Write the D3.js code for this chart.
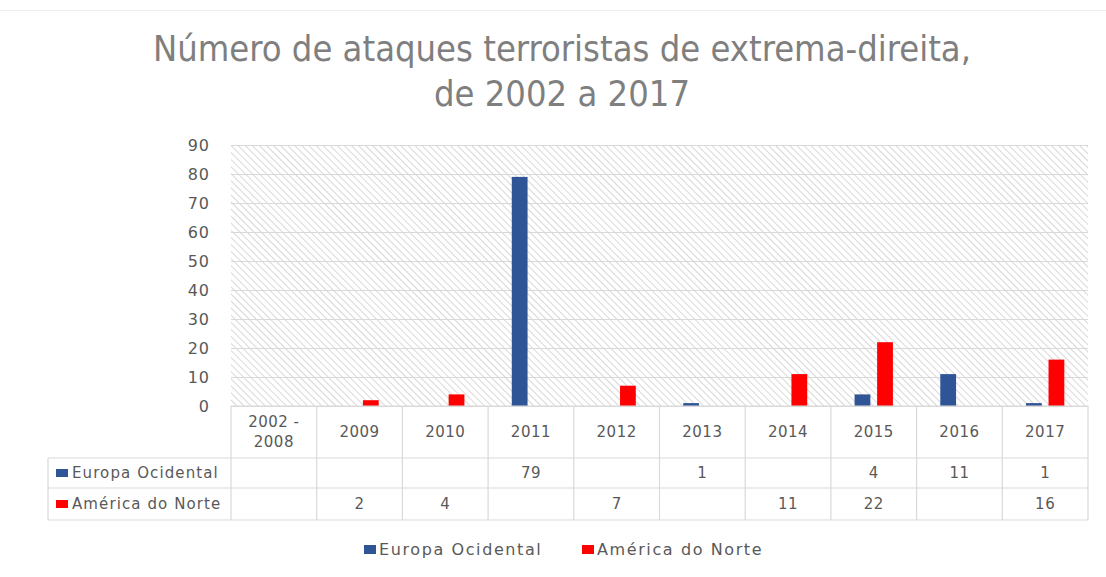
<!DOCTYPE html>
<html>
<head>
<meta charset="utf-8">
<script src="https://cdn.jsdelivr.net/npm/d3@7"></script>
<style>
  body { margin: 0; background: #fff; }
</style>
</head>
<body>
<div id="container"></div>
<script>
// data
const categories = ["2002 - 2008", "2009", "2010", "2011", "2012", "2013", "2014", "2015", "2016", "2017"]
const seriesNames = ["Europa Ocidental", "América do Norte"]
const europa = [null, null, null, 79, null, 1, null, 4, 11, 1]
const america = [null, 2, 4, null, 7, null, 11, 22, null, 16]
const yTicks = [0, 10, 20, 30, 40, 50, 60, 70, 80, 90]
const colors = ["#2f5597", "#ff0000"]

let width = 1106
let height = 577
let margin = {top: 145, right: 18, left: 231}
let plotBottom = 406
let rowH = [52, 30, 32]
let labelFont = "'DejaVu Sans', Verdana, sans-serif"

let svg = d3.select("#container")
    .append("svg")
    .attr("width", width)
    .attr("height", height)

let defs = svg.append("defs")
let pat = defs.append("pattern")
    .attr("id", "hatch")
    .attr("patternUnits", "userSpaceOnUse")
    .attr("width", 5)
    .attr("height", 5)
    .attr("patternTransform", "rotate(-45)")
pat.append("rect").attr("width", 5).attr("height", 5).attr("fill", "#fff")
pat.append("line")
    .attr("x1", 0).attr("y1", 0).attr("x2", 0).attr("y2", 5)
    .attr("stroke", "#d4d4d4").attr("stroke-width", 1.8)

// faint top border
svg.append("line")
    .attr("x1", 0).attr("x2", width).attr("y1", 10.5).attr("y2", 10.5)
    .attr("stroke", "#ececec")

// title
let title = svg.append("text")
    .attr("text-anchor", "middle")
    .attr("fill", "#7f7f7f")
    .style("font-family", "'Liberation Sans Narrow', 'DejaVu Sans Condensed', sans-serif")
    .style("font-size", "36px")
title.append("tspan").attr("x", 562).attr("y", 61).text("Número de ataques terroristas de extrema-direita,")
title.append("tspan").attr("x", 562).attr("y", 106).text("de 2002 a 2017")

let x = d3.scaleBand()
    .domain(categories)
    .range([margin.left, width - margin.right])

let xs = d3.scaleBand()
    .domain(seriesNames)
    .range([0, x.bandwidth()])
    .paddingInner(0.3)
    .paddingOuter(1.05)

let y = d3.scaleLinear()
    .domain([0, 90])
    .range([plotBottom, margin.top])

// hatched plot area
svg.append("rect")
    .attr("x", margin.left)
    .attr("y", margin.top)
    .attr("width", width - margin.right - margin.left)
    .attr("height", plotBottom - margin.top)
    .attr("fill", "url(#hatch)")

// gridlines + y labels
let yAxis = svg.append("g")
    .attr("transform", `translate(${margin.left},0)`)
    .call(d3.axisLeft(y).tickValues(yTicks).tickSize(-(width - margin.right - margin.left)).tickPadding(21))
yAxis.select(".domain").remove()
yAxis.selectAll(".tick line").attr("stroke", "#d9d9d9").attr("stroke-width", 1.2)
yAxis.selectAll(".tick text")
    .attr("fill", "#595959")
    .style("font-family", labelFont)
    .style("font-size", "16px")
    .style("letter-spacing", "1px")

// bars
let seriesData = [europa, america]
seriesData.forEach((vals, si) => {
    svg.append("g")
        .attr("fill", colors[si])
        .selectAll("rect")
        .data(categories.map((c, i) => ({cat: c, value: vals[i]})).filter(d => d.value != null))
        .join("rect")
            .attr("x", d => x(d.cat) + xs(seriesNames[si]))
            .attr("y", d => y(d.value))
            .attr("width", xs.bandwidth())
            .attr("height", d => y(0) - y(d.value))
})

// data table
let tbl = svg.append("g")
let gridColor = "#d9d9d9"
let r0 = plotBottom
let r1 = r0 + rowH[0]
let r2 = r1 + rowH[1]
let r3 = r2 + rowH[2]
let tableLeft = 48
let xr = width - margin.right

function hline(x1, x2, yy) {
    tbl.append("line").attr("x1", x1).attr("x2", x2).attr("y1", yy).attr("y2", yy)
        .attr("stroke", gridColor).attr("stroke-width", 1.2)
}
function vline(xx, y1, y2) {
    tbl.append("line").attr("x1", xx).attr("x2", xx).attr("y1", y1).attr("y2", y2)
        .attr("stroke", gridColor).attr("stroke-width", 1.2)
}
hline(margin.left, xr, r0)
hline(tableLeft, xr, r1)
hline(tableLeft, xr, r2)
hline(tableLeft, xr, r3)
vline(tableLeft, r1, r3)
categories.forEach(c => vline(x(c), r0, r3))
vline(xr, r0, r3)

let cellText = (xx, yy, t) => tbl.append("text")
    .attr("x", xx).attr("y", yy)
    .attr("text-anchor", "middle")
    .attr("fill", "#595959")
    .style("font-family", labelFont)
    .style("font-size", "15px")
    .style("letter-spacing", "0.5px")
    .text(t)

categories.forEach(c => {
    let cx = x(c) + x.bandwidth() / 2
    if (c.includes(" - ")) {
        let parts = c.split(" - ")
        cellText(cx, r0 + 21, parts[0] + " -")
        cellText(cx, r0 + 41, parts[1])
    } else {
        cellText(cx, r0 + 31, c)
    }
})

seriesData.forEach((vals, si) => {
    let top = si == 0 ? r1 : r2
    let h = rowH[si + 1]
    categories.forEach((c, i) => {
        if (vals[i] != null) cellText(x(c) + x.bandwidth() / 2, top + h / 2 + 5, vals[i])
    })
    tbl.append("rect")
        .attr("x", tableLeft + 8).attr("y", top + h / 2 - 4)
        .attr("width", 12).attr("height", 8)
        .attr("fill", colors[si])
    tbl.append("text")
        .attr("x", tableLeft + 24).attr("y", top + h / 2 + 5)
        .attr("fill", "#595959")
        .style("font-family", labelFont)
        .style("font-size", "15px")
        .style("letter-spacing", "1.1px")
        .text(seriesNames[si])
})

// legend
let legendX = [364, 582]
let legend = svg.append("g")
seriesNames.forEach((n, i) => {
    legend.append("rect")
        .attr("x", legendX[i]).attr("y", 545)
        .attr("width", 12).attr("height", 9)
        .attr("fill", colors[i])
    legend.append("text")
        .attr("x", legendX[i] + 15).attr("y", 555)
        .attr("fill", "#595959")
        .style("font-family", labelFont)
        .style("font-size", "16px")
        .style("letter-spacing", "1.6px")
        .text(n)
})
</script>
</body>
</html>
